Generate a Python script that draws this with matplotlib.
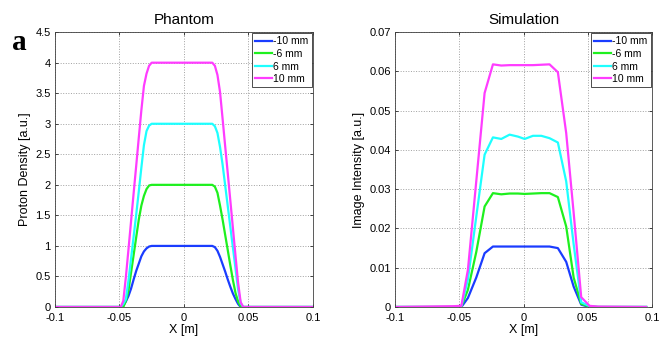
import matplotlib.pyplot as plt

plt.rcParams['font.family'] = ['Liberation Sans', 'DejaVu Sans']

labels = ['-10 mm', '-6 mm', '6 mm', '10 mm']
colors = ['#1a3cff', '#1ef01e', '#1effff', '#ff3cff']

# Phantom profiles
x_ph = [-0.100, -0.049, -0.047, -0.045, -0.043, -0.041, -0.039, -0.037, -0.035, -0.033,
        -0.031, -0.029, -0.027, -0.025, 0.000, 0.022, 0.024, 0.026, 0.028, 0.030,
        0.032, 0.034, 0.036, 0.038, 0.040, 0.042, 0.044, 0.046, 0.048, 0.100]
ph_m10 = [0, 0, 0.02, 0.09, 0.18, 0.30, 0.45, 0.59, 0.71, 0.83,
          0.91, 0.96, 0.99, 1.0, 1.0, 1.0, 0.98, 0.92, 0.82, 0.70,
          0.58, 0.45, 0.33, 0.22, 0.13, 0.05, 0.0, 0, 0, 0]
ph_m6 = [0, 0, 0, 0.10, 0.27, 0.56, 0.85, 1.14, 1.43, 1.66,
         1.82, 1.93, 1.99, 2.0, 2.0, 2.0, 1.97, 1.87, 1.66, 1.43,
         1.18, 0.93, 0.68, 0.44, 0.23, 0.09, 0.01, 0, 0, 0]
ph_p6 = [0, 0, 0.05, 0.13, 0.43, 0.79, 1.15, 1.51, 1.89, 2.28,
         2.65, 2.88, 2.97, 3.0, 3.0, 3.0, 2.96, 2.85, 2.62, 2.33,
         1.99, 1.65, 1.31, 0.97, 0.63, 0.29, 0.06, 0, 0, 0]
ph_p10 = [0, 0, 0.10, 0.49, 0.94, 1.40, 1.86, 2.31, 2.77, 3.22,
          3.62, 3.82, 3.95, 4.0, 4.0, 4.0, 3.95, 3.80, 3.52, 3.08,
          2.63, 2.19, 1.74, 1.29, 0.84, 0.40, 0.08, 0, 0, 0]

# Simulated image profiles
x_sim = [-0.1, -0.055, -0.0485, -0.0434, -0.0369, -0.0304, -0.0239, -0.0174, -0.0109, -0.0044,
         0.0008, 0.0073, 0.0138, 0.0202, 0.0267, 0.0332, 0.0390, 0.0449, 0.0514, 0.058, 0.0955]
sim_m10 = [0, 0, 0, 0.0023, 0.0075, 0.0137, 0.0154, 0.0154, 0.0154, 0.0154,
           0.0154, 0.0154, 0.0154, 0.0154, 0.0150, 0.0115, 0.0052, 0.0006, 0, 0, 0]
sim_m6 = [0, 0, 0.0001, 0.0044, 0.0140, 0.0256, 0.0290, 0.0287, 0.0289, 0.0289,
          0.0288, 0.0289, 0.0290, 0.0290, 0.0280, 0.0205, 0.0075, 0.0008, 0.0001, 0, 0]
sim_p6 = [0, 0, 0.0002, 0.0070, 0.0230, 0.0388, 0.0432, 0.0428, 0.0439, 0.0434,
          0.0428, 0.0436, 0.0436, 0.0430, 0.0419, 0.0320, 0.0160, 0.0012, 0.0002, 0, 0]
sim_p10 = [0, 0.0002, 0.0003, 0.0095, 0.0320, 0.0545, 0.0618, 0.0615, 0.0616, 0.0616,
           0.0616, 0.0616, 0.0617, 0.0618, 0.0598, 0.0443, 0.0240, 0.0025, 0.0003, 0.0001, 0]

fig = plt.figure(figsize=(6.7, 3.41), dpi=100)
ax1 = fig.add_axes([0.082, 0.0997, 0.385, 0.806])
ax2 = fig.add_axes([0.590, 0.0997, 0.383, 0.806])


def style(ax, yticks, ylabels, ylabel, title):
    ax.set_xlim(-0.1, 0.1)
    ax.set_ylim(yticks[0], yticks[-1])
    ax.set_xticks([-0.1, -0.05, 0, 0.05, 0.1])
    ax.set_xticklabels(['-0.1', '-0.05', '0', '0.05', '0.1'])
    ax.set_yticks(yticks)
    ax.set_yticklabels(ylabels)
    ax.tick_params(direction='in', length=2.5, width=0.5, labelsize=8,
                   top=True, right=True)
    ax.tick_params(axis='x', pad=4)
    ax.tick_params(axis='y', pad=3)
    ax.grid(True, linestyle=':', color='#a0a0a0', linewidth=0.7)
    for s in ax.spines.values():
        s.set_linewidth(0.6)
        s.set_color('#404040')
    ax.set_xlabel('X [m]', fontsize=9, labelpad=1)
    ax.set_ylabel(ylabel, fontsize=9, labelpad=3)
    ax.set_title(title, fontsize=11, pad=6)
    leg = ax.legend(loc='upper right', fontsize=7.5, handlelength=1.7,
                    handletextpad=0.1, labelspacing=0.25, borderpad=0.3,
                    borderaxespad=0.1, fancybox=False, framealpha=1)
    leg.get_frame().set_edgecolor('#303030')
    leg.get_frame().set_linewidth(0.6)


for ys, c, lab in zip([ph_m10, ph_m6, ph_p6, ph_p10], colors, labels):
    ax1.plot(x_ph, ys, color=c, lw=1.6, label=lab)
style(ax1, [0, 0.5, 1, 1.5, 2, 2.5, 3, 3.5, 4, 4.5],
      ['0', '0.5', '1', '1.5', '2', '2.5', '3', '3.5', '4', '4.5'],
      'Proton Density [a.u.]', 'Phantom')

for ys, c, lab in zip([sim_m10, sim_m6, sim_p6, sim_p10], colors, labels):
    ax2.plot(x_sim, ys, color=c, lw=1.6, label=lab)
style(ax2, [0, 0.01, 0.02, 0.03, 0.04, 0.05, 0.06, 0.07],
      ['0', '0.01', '0.02', '0.03', '0.04', '0.05', '0.06', '0.07'],
      'Image Intensity [a.u.]', 'Simulation')

fig.text(0.018, 0.853, 'a', fontsize=21, fontweight='bold',
         family=['Liberation Serif', 'DejaVu Serif'])

fig.savefig('out.png', dpi=100)
